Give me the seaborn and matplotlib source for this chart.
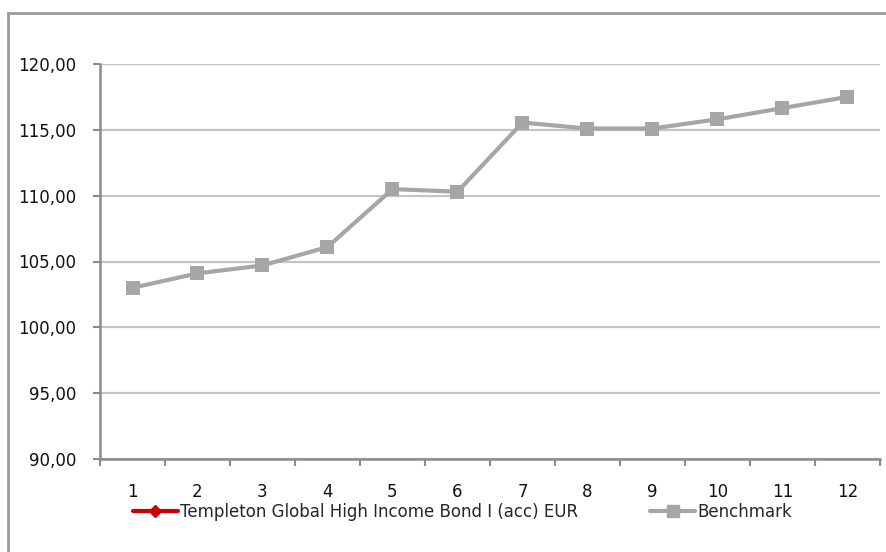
import numpy as np
import pandas as pd
import matplotlib
matplotlib.use("Agg")
import matplotlib.pyplot as plt
from matplotlib.lines import Line2D
import seaborn as sns

periods = [1, 2, 3, 4, 5, 6, 7, 8, 9, 10, 11, 12]
benchmark = [103.0, 104.1, 104.7, 106.1, 110.5, 110.3, 115.55, 115.1, 115.1, 115.8, 116.65, 117.5]
fund_name = "Templeton Global High Income Bond I (acc) EUR"
bench_name = "Benchmark"
y_ticks = [90, 95, 100, 105, 110, 115, 120]

sns.set_theme(style="white")
plt.rcParams['font.family'] = ['DejaVu Sans']

W, H = 887, 552
FS = 12
fig = plt.figure(figsize=(W / 100, H / 100), dpi=100)
ax = fig.add_axes([100 / W, 1 - 459 / H, 780 / W, (459 - 64) / H])

df = pd.DataFrame({"period": periods, "value": benchmark})
sns.lineplot(data=df, x="period", y="value", ax=ax, color="#a6a6a6",
             linewidth=3, marker="s", markersize=10, markeredgewidth=0, legend=False)

ax.set_xlim(0.5, 12.5)
ax.set_ylim(90, 120)
ax.set_yticks(y_ticks)
ax.set_yticklabels([f"{v:.2f}".replace(".", ",") for v in y_ticks], fontsize=FS, color="#111111")
ax.yaxis.grid(True, color="#c4c4c4", linewidth=1.6)
ax.xaxis.grid(False)

ax.set_xticks(np.arange(0.5, 13.0, 1.0))
ax.set_xticklabels([])
ax.set_xticks(periods, minor=True)
ax.set_xticklabels([str(p) for p in periods], minor=True, fontsize=FS, color="#111111")
ax.tick_params(axis="x", which="major", length=5, width=1.5, color="#8c8c8c", direction="out", bottom=True)
ax.tick_params(axis="x", which="minor", length=0, pad=17)
ax.tick_params(axis="y", length=5, width=1.5, color="#8c8c8c", direction="out", left=True, pad=12)
ax.set_xlabel("")
ax.set_ylabel("")

for side in ["top", "right"]:
    ax.spines[side].set_visible(False)
for side in ["left", "bottom"]:
    ax.spines[side].set_color("#8c8c8c")
    ax.spines[side].set_linewidth(1.8)

# legend
h_fund = Line2D([], [], color="#cc0000", linewidth=3, marker="D", markersize=6, label=fund_name)
h_bench = Line2D([], [], color="#a6a6a6", linewidth=3, marker="s", markersize=8, label=bench_name)
fig.legend(handles=[h_fund, h_bench], ncol=2, loc="center left",
           bbox_to_anchor=(133 / W, 1 - 512 / H), frameon=False, fontsize=FS,
           handlelength=2.7, handletextpad=0.15, columnspacing=4.3, borderpad=0,
           borderaxespad=0)

# outer chart border (top and left visible)
fig.add_artist(Line2D([8.5 / W, 8.5 / W], [0, 1 - 13 / H], color="#9a9a9a", linewidth=2,
                      transform=fig.transFigure))
fig.add_artist(Line2D([8.5 / W, 1], [1 - 13 / H, 1 - 13 / H], color="#9a9a9a", linewidth=2,
                      transform=fig.transFigure))

fig.savefig("out.png", dpi=100)
